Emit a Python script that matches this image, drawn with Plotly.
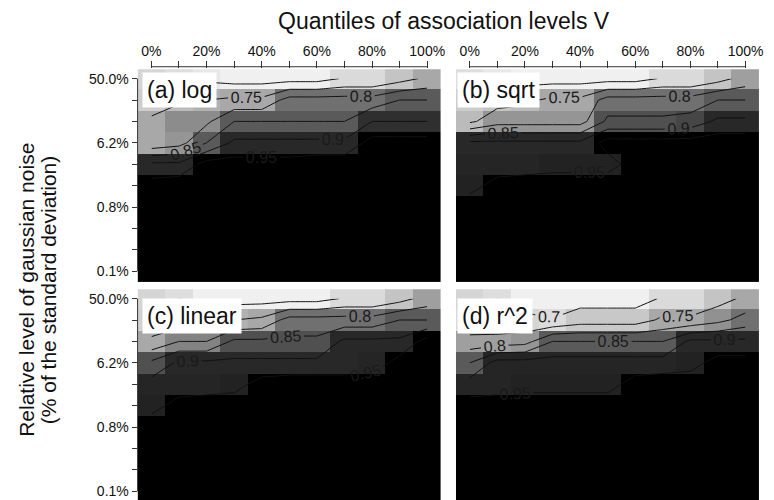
import numpy as np
import plotly.graph_objects as go

# ---------------- data ----------------
quantiles = [0, 10, 20, 30, 40, 50, 60, 70, 80, 90, 100]          # % quantile of V
noise_pct = [50.0, 25.0, 12.5, 6.25, 3.125, 1.5625, 0.78125, 0.390625, 0.1953125, 0.09765625]
x_tick_vals = [0, 20, 40, 60, 80, 100]
y_tick_idx = [0, 3, 6, 9]
contour_levels = [0.70, 0.75, 0.80, 0.85, 0.90, 0.95]
panel_names = ["(a) log", "(b) sqrt", "(c) linear", "(d) r^2"]

z_log = [
    [0.71, 0.70, 0.69, 0.68, 0.68, 0.68, 0.68, 0.705, 0.705, 0.73, 0.76],
    [0.72, 0.74, 0.75, 0.76, 0.76, 0.82, 0.82, 0.82, 0.82, 0.85, 0.85],
    [0.76, 0.79, 0.79, 0.85, 0.85, 0.85, 0.85, 0.85, 0.90, 0.90, 0.90],
    [0.76, 0.78, 0.85, 0.91, 0.91, 0.91, 0.91, 0.91, 0.97, 0.97, 0.97],
    [0.91, 0.91, 0.97, 0.97, 0.97, 0.97, 0.98, 0.98, 0.98, 0.98, 0.98],
    [0.97, 0.98, 0.98, 0.98, 0.98, 0.98, 0.98, 0.99, 0.99, 0.99, 0.99],
    [0.98, 0.99, 0.99, 0.99, 0.99, 0.99, 0.99, 0.99, 0.99, 0.99, 0.99],
    [0.99, 0.99, 0.99, 0.99, 0.99, 0.99, 0.99, 0.99, 0.99, 0.99, 0.99],
    [0.99, 0.99, 0.99, 0.99, 0.99, 0.99, 0.99, 0.99, 0.99, 0.99, 0.99],
    [0.99, 0.99, 0.99, 0.99, 0.99, 0.99, 0.99, 0.99, 0.99, 0.99, 0.99],
]
z_sqrt = [
    [0.70, 0.69, 0.68, 0.68, 0.68, 0.68, 0.68, 0.705, 0.705, 0.73, 0.77],
    [0.72, 0.73, 0.74, 0.76, 0.76, 0.82, 0.82, 0.82, 0.82, 0.85, 0.85],
    [0.74, 0.78, 0.78, 0.78, 0.78, 0.86, 0.86, 0.86, 0.87, 0.91, 0.91],
    [0.91, 0.91, 0.91, 0.91, 0.91, 0.97, 0.97, 0.97, 0.97, 0.98, 0.98],
    [0.92, 0.92, 0.92, 0.93, 0.93, 0.93, 0.97, 0.98, 0.98, 0.98, 0.98],
    [0.93, 0.97, 0.98, 0.98, 0.98, 0.98, 0.98, 0.98, 0.99, 0.99, 0.99],
    [0.98, 0.98, 0.99, 0.99, 0.99, 0.99, 0.99, 0.99, 0.99, 0.99, 0.99],
    [0.99, 0.99, 0.99, 0.99, 0.99, 0.99, 0.99, 0.99, 0.99, 0.99, 0.99],
    [0.99, 0.99, 0.99, 0.99, 0.99, 0.99, 0.99, 0.99, 0.99, 0.99, 0.99],
    [0.99, 0.99, 0.99, 0.99, 0.99, 0.99, 0.99, 0.99, 0.99, 0.99, 0.99],
]
z_linear = [
    [0.71, 0.70, 0.68, 0.68, 0.68, 0.68, 0.68, 0.705, 0.705, 0.73, 0.77],
    [0.715, 0.72, 0.73, 0.75, 0.76, 0.82, 0.82, 0.82, 0.82, 0.85, 0.85],
    [0.76, 0.80, 0.80, 0.86, 0.86, 0.86, 0.86, 0.91, 0.91, 0.91, 0.97],
    [0.86, 0.91, 0.91, 0.91, 0.91, 0.91, 0.91, 0.91, 0.92, 0.97, 0.97],
    [0.92, 0.92, 0.92, 0.93, 0.97, 0.98, 0.98, 0.98, 0.98, 0.98, 0.98],
    [0.93, 0.97, 0.98, 0.98, 0.98, 0.98, 0.98, 0.99, 0.99, 0.99, 0.99],
    [0.98, 0.98, 0.99, 0.99, 0.99, 0.99, 0.99, 0.99, 0.99, 0.99, 0.99],
    [0.99, 0.99, 0.99, 0.99, 0.99, 0.99, 0.99, 0.99, 0.99, 0.99, 0.99],
    [0.99, 0.99, 0.99, 0.99, 0.99, 0.99, 0.99, 0.99, 0.99, 0.99, 0.99],
    [0.99, 0.99, 0.99, 0.99, 0.99, 0.99, 0.99, 0.99, 0.99, 0.99, 0.99],
]
z_r2 = [
    [0.71, 0.70, 0.68, 0.68, 0.68, 0.68, 0.68, 0.705, 0.705, 0.73, 0.76],
    [0.705, 0.71, 0.71, 0.702, 0.725, 0.725, 0.725, 0.76, 0.76, 0.785, 0.82],
    [0.77, 0.77, 0.78, 0.85, 0.85, 0.85, 0.85, 0.85, 0.91, 0.91, 0.91],
    [0.85, 0.92, 0.92, 0.92, 0.92, 0.92, 0.92, 0.92, 0.93, 0.97, 0.97],
    [0.92, 0.92, 0.93, 0.93, 0.93, 0.93, 0.97, 0.98, 0.98, 0.98, 0.98],
    [0.97, 0.98, 0.98, 0.98, 0.98, 0.98, 0.98, 0.98, 0.99, 0.99, 0.99],
    [0.98, 0.99, 0.99, 0.99, 0.99, 0.99, 0.99, 0.99, 0.99, 0.99, 0.99],
    [0.99, 0.99, 0.99, 0.99, 0.99, 0.99, 0.99, 0.99, 0.99, 0.99, 0.99],
    [0.99, 0.99, 0.99, 0.99, 0.99, 0.99, 0.99, 0.99, 0.99, 0.99, 0.99],
    [0.99, 0.99, 0.99, 0.99, 0.99, 0.99, 0.99, 0.99, 0.99, 0.99, 0.99],
]
panels_z = [z_log, z_sqrt, z_linear, z_r2]

# ---------------- styling ----------------
ZMIN, ZMAX = 0.66, 1.0
cs_vals = [0.66, 0.68, 0.70, 0.73, 0.76, 0.79, 0.82, 0.85, 0.88, 0.91, 0.945, 0.955, 1.0]
cs_gray = [250, 240, 222, 196, 168, 140, 112, 90, 60, 40, 30, 0, 0]
colorscale = [[(v - ZMIN) / (ZMAX - ZMIN), f"rgb({g},{g},{g})"] for v, g in zip(cs_vals, cs_gray)]

FONT = "Liberation Sans, Arial, Helvetica, sans-serif"
W, H = 774, 500
ROW_PX = 21.4

yv = np.log2(noise_pct)
y_top = yv[0] + 0.435
x_dom = [[138.3 / W, 443.3 / W], [458.3 / W, 763.3 / W]]
top_px = (69.3, 282.0)
bot_px = (289.3, 500.0)
y_dom_top = [1 - top_px[1] / H, 1 - top_px[0] / H]
y_dom_bot = [0.0, 1 - bot_px[0] / H]
y_range_top = [y_top - (top_px[1] - top_px[0]) / ROW_PX, y_top]
y_range_bot = [y_top - (bot_px[1] - bot_px[0]) / ROW_PX, y_top]

fig = go.Figure()

for i, z in enumerate(panels_z):
    k = "" if i == 0 else str(i + 1)
    xa, ya = "x" + k, "y" + k
    fig.add_trace(go.Heatmap(
        x=quantiles, y=yv, z=z, zmin=ZMIN, zmax=ZMAX, colorscale=colorscale,
        showscale=False, hoverinfo="skip", xaxis=xa, yaxis=ya, zsmooth=False))
    fig.add_trace(go.Contour(
        x=quantiles, y=yv, z=z, showscale=False, hoverinfo="skip",
        xaxis=xa, yaxis=ya,
        contours=dict(start=contour_levels[0], end=contour_levels[-1],
                      size=contour_levels[1] - contour_levels[0], coloring="none",
                      showlabels=True,
                      labelfont=dict(family=FONT, size=16, color="#1a1a1a")),
        line=dict(color="#111111", width=1, smoothing=0)))

axis_common = dict(showgrid=False, zeroline=False, showline=False)
tick_text_x = [f"{v}%" for v in x_tick_vals]
tick_text_y = [f"{noise_pct[j]:.1f}%" for j in y_tick_idx]

layout = dict(width=W, height=H, margin=dict(l=0, r=0, t=0, b=0),
              paper_bgcolor="white", plot_bgcolor="white",
              font=dict(family=FONT, size=14, color="#111111"), showlegend=False)

for i in range(4):
    k = "" if i == 0 else str(i + 1)
    col = i % 2
    row = i // 2
    xkey = "xaxis" + k
    ykey = "yaxis" + k
    xa = dict(axis_common, domain=x_dom[col], range=[quantiles[0] - 5, quantiles[-1] + 5],
              anchor="y" + k, fixedrange=True)
    if row == 0:
        xa.update(side="top", tickmode="array", tickvals=x_tick_vals, ticktext=tick_text_x,
                  ticks="outside", ticklen=7, tickcolor="#333333", tickwidth=1,
                  tickfont=dict(size=14, color="#111111"),
                  minor=dict(tickmode="array", tickvals=quantiles, ticks="outside",
                             ticklen=7, tickcolor="#333333", tickwidth=1))
    else:
        xa.update(showticklabels=False, ticks="")
    ya = dict(axis_common, domain=y_dom_top if row == 0 else y_dom_bot,
              range=y_range_top if row == 0 else y_range_bot,
              anchor="x" + k, fixedrange=True)
    if col == 0:
        ya.update(tickmode="array", tickvals=[yv[j] for j in y_tick_idx], ticktext=tick_text_y,
                  ticks="outside", ticklen=5, tickcolor="#333333", tickwidth=1,
                  tickfont=dict(size=14, color="#111111"),
                  minor=dict(tickmode="array", tickvals=list(yv), ticks="outside",
                             ticklen=5, tickcolor="#333333", tickwidth=1))
    else:
        ya.update(showticklabels=False, ticks="")
    layout[xkey] = xa
    layout[ykey] = ya

fig.update_layout(**layout)

shapes = []
annotations = []
for i in range(4):
    k = "" if i == 0 else str(i + 1)
    col = i % 2
    row = i // 2
    if row == 0:
        # R-style top axis line spanning first to last tick
        shapes.append(dict(type="line", xref="x" + k, yref="y" + k + " domain",
                           x0=quantiles[0], x1=quantiles[-1], y0=1.012, y1=1.012,
                           line=dict(color="#333333", width=1)))
    if col == 0:
        shapes.append(dict(type="line", xref="x" + k + " domain", yref="y" + k,
                           x0=0, x1=0, y0=yv[0], y1=yv[-1],
                           line=dict(color="#333333", width=1)))
    # panel label
    lx = (143 if col == 0 else 459) / W
    ly = 1 - (72 if row == 0 else 298) / H
    annotations.append(dict(text=panel_names[i], xref="paper", yref="paper", x=lx, y=ly,
                            xanchor="left", yanchor="top", showarrow=False,
                            bgcolor="white", borderpad=4,
                            font=dict(family=FONT, size=23, color="#111111")))

annotations.append(dict(text="Quantiles of association levels V", xref="paper", yref="paper",
                        x=446.7 / W, y=1 - 20.7 / H, xanchor="center", yanchor="middle",
                        showarrow=False, font=dict(family=FONT, size=23, color="#111111")))
annotations.append(dict(text="Relative level of gaussian noise", xref="paper", yref="paper",
                        x=26.0 / W, y=1 - 290 / H, xanchor="center", yanchor="middle",
                        textangle=-90, showarrow=False,
                        font=dict(family=FONT, size=21, color="#111111")))
annotations.append(dict(text="(% of the standard deviation)", xref="paper", yref="paper",
                        x=48.5 / W, y=1 - 290 / H, xanchor="center", yanchor="middle",
                        textangle=-90, showarrow=False,
                        font=dict(family=FONT, size=21, color="#111111")))

fig.update_layout(shapes=shapes, annotations=annotations)
fig.write_html("out.html")
